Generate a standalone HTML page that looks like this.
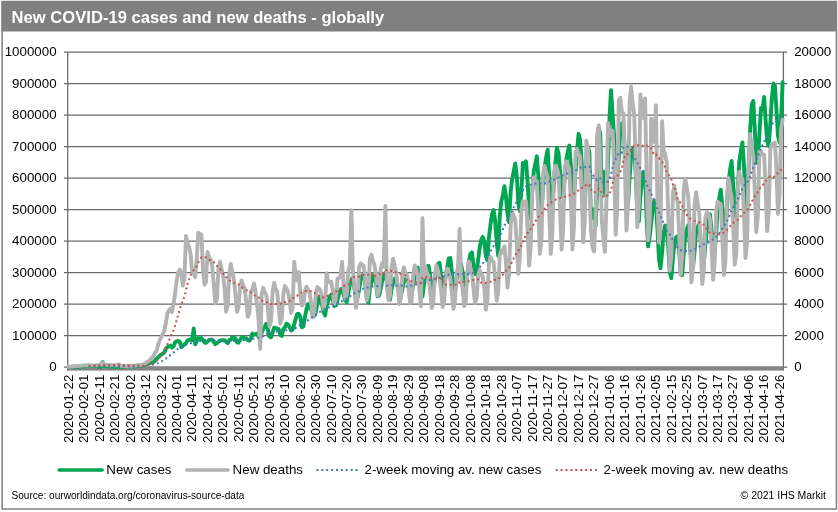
<!DOCTYPE html>
<html><head><meta charset="utf-8"><title>New COVID-19 cases and new deaths - globally</title>
<style>html,body{margin:0;padding:0;background:#fff;}body{width:838px;height:512px;position:relative;overflow:hidden;font-family:"Liberation Sans",sans-serif;}</style>
</head><body>
<svg width="838" height="512" viewBox="0 0 838 512" style="position:absolute;left:0;top:0;will-change:transform;font-family:'Liberation Sans',sans-serif">
<rect x="0" y="0" width="838" height="512" fill="#fff"/>
<g>
<rect x="2.15" y="1.5" width="834.3" height="507.5" fill="none" stroke="#7f7f7f" stroke-width="1.5"/>
<rect x="1.4" y="1.2" width="835.5" height="30.3" fill="#808080"/>
<text x="11.6" y="23.4" font-size="16.6" font-weight="bold" fill="#fff">New COVID-19 cases and new deaths - globally</text>
<line x1="64.0" y1="52.00" x2="787.1" y2="52.00" stroke="#696969" stroke-width="1.25"/>
<line x1="64.0" y1="83.50" x2="787.1" y2="83.50" stroke="#696969" stroke-width="1.25"/>
<line x1="64.0" y1="115.00" x2="787.1" y2="115.00" stroke="#696969" stroke-width="1.25"/>
<line x1="64.0" y1="146.50" x2="787.1" y2="146.50" stroke="#696969" stroke-width="1.25"/>
<line x1="64.0" y1="178.00" x2="787.1" y2="178.00" stroke="#696969" stroke-width="1.25"/>
<line x1="64.0" y1="209.50" x2="787.1" y2="209.50" stroke="#696969" stroke-width="1.25"/>
<line x1="64.0" y1="241.00" x2="787.1" y2="241.00" stroke="#696969" stroke-width="1.25"/>
<line x1="64.0" y1="272.50" x2="787.1" y2="272.50" stroke="#696969" stroke-width="1.25"/>
<line x1="64.0" y1="304.00" x2="787.1" y2="304.00" stroke="#696969" stroke-width="1.25"/>
<line x1="64.0" y1="335.50" x2="787.1" y2="335.50" stroke="#696969" stroke-width="1.25"/>
<line x1="64.0" y1="367.00" x2="787.1" y2="367.00" stroke="#696969" stroke-width="1.25"/>
<line x1="67.7" y1="52.0" x2="67.7" y2="370.6" stroke="#696969" stroke-width="1.25"/>
<line x1="783.4" y1="52.0" x2="783.4" y2="370.6" stroke="#696969" stroke-width="1.25"/>
<rect x="67.7" y="366.5" width="715.6999999999999" height="4.1" fill="#858585"/>
<text x="56.6" y="56.3" font-size="13.33" text-anchor="end" fill="#000">1000000</text>
<text x="794.2" y="56.3" font-size="13.33" fill="#000">20000</text>
<text x="56.6" y="87.8" font-size="13.33" text-anchor="end" fill="#000">900000</text>
<text x="794.2" y="87.8" font-size="13.33" fill="#000">18000</text>
<text x="56.6" y="119.3" font-size="13.33" text-anchor="end" fill="#000">800000</text>
<text x="794.2" y="119.3" font-size="13.33" fill="#000">16000</text>
<text x="56.6" y="150.8" font-size="13.33" text-anchor="end" fill="#000">700000</text>
<text x="794.2" y="150.8" font-size="13.33" fill="#000">14000</text>
<text x="56.6" y="182.3" font-size="13.33" text-anchor="end" fill="#000">600000</text>
<text x="794.2" y="182.3" font-size="13.33" fill="#000">12000</text>
<text x="56.6" y="213.8" font-size="13.33" text-anchor="end" fill="#000">500000</text>
<text x="794.2" y="213.8" font-size="13.33" fill="#000">10000</text>
<text x="56.6" y="245.3" font-size="13.33" text-anchor="end" fill="#000">400000</text>
<text x="794.2" y="245.3" font-size="13.33" fill="#000">8000</text>
<text x="56.6" y="276.8" font-size="13.33" text-anchor="end" fill="#000">300000</text>
<text x="794.2" y="276.8" font-size="13.33" fill="#000">6000</text>
<text x="56.6" y="308.3" font-size="13.33" text-anchor="end" fill="#000">200000</text>
<text x="794.2" y="308.3" font-size="13.33" fill="#000">4000</text>
<text x="56.6" y="339.8" font-size="13.33" text-anchor="end" fill="#000">100000</text>
<text x="794.2" y="339.8" font-size="13.33" fill="#000">2000</text>
<text x="56.6" y="371.3" font-size="13.33" text-anchor="end" fill="#000">0</text>
<text x="794.2" y="371.3" font-size="13.33" fill="#000">0</text>
<text transform="translate(72.77,374.7) rotate(-90)" font-size="13.33" text-anchor="end" fill="#000">2020-01-22</text>
<text transform="translate(88.23,374.7) rotate(-90)" font-size="13.33" text-anchor="end" fill="#000">2020-02-01</text>
<text transform="translate(103.69,374.7) rotate(-90)" font-size="13.33" text-anchor="end" fill="#000">2020-02-11</text>
<text transform="translate(119.15,374.7) rotate(-90)" font-size="13.33" text-anchor="end" fill="#000">2020-02-21</text>
<text transform="translate(134.60,374.7) rotate(-90)" font-size="13.33" text-anchor="end" fill="#000">2020-03-02</text>
<text transform="translate(150.06,374.7) rotate(-90)" font-size="13.33" text-anchor="end" fill="#000">2020-03-12</text>
<text transform="translate(165.52,374.7) rotate(-90)" font-size="13.33" text-anchor="end" fill="#000">2020-03-22</text>
<text transform="translate(180.98,374.7) rotate(-90)" font-size="13.33" text-anchor="end" fill="#000">2020-04-01</text>
<text transform="translate(196.44,374.7) rotate(-90)" font-size="13.33" text-anchor="end" fill="#000">2020-04-11</text>
<text transform="translate(211.89,374.7) rotate(-90)" font-size="13.33" text-anchor="end" fill="#000">2020-04-21</text>
<text transform="translate(227.35,374.7) rotate(-90)" font-size="13.33" text-anchor="end" fill="#000">2020-05-01</text>
<text transform="translate(242.81,374.7) rotate(-90)" font-size="13.33" text-anchor="end" fill="#000">2020-05-11</text>
<text transform="translate(258.27,374.7) rotate(-90)" font-size="13.33" text-anchor="end" fill="#000">2020-05-21</text>
<text transform="translate(273.73,374.7) rotate(-90)" font-size="13.33" text-anchor="end" fill="#000">2020-05-31</text>
<text transform="translate(289.18,374.7) rotate(-90)" font-size="13.33" text-anchor="end" fill="#000">2020-06-10</text>
<text transform="translate(304.64,374.7) rotate(-90)" font-size="13.33" text-anchor="end" fill="#000">2020-06-20</text>
<text transform="translate(320.10,374.7) rotate(-90)" font-size="13.33" text-anchor="end" fill="#000">2020-06-30</text>
<text transform="translate(335.56,374.7) rotate(-90)" font-size="13.33" text-anchor="end" fill="#000">2020-07-10</text>
<text transform="translate(351.01,374.7) rotate(-90)" font-size="13.33" text-anchor="end" fill="#000">2020-07-20</text>
<text transform="translate(366.47,374.7) rotate(-90)" font-size="13.33" text-anchor="end" fill="#000">2020-07-30</text>
<text transform="translate(381.93,374.7) rotate(-90)" font-size="13.33" text-anchor="end" fill="#000">2020-08-09</text>
<text transform="translate(397.39,374.7) rotate(-90)" font-size="13.33" text-anchor="end" fill="#000">2020-08-19</text>
<text transform="translate(412.85,374.7) rotate(-90)" font-size="13.33" text-anchor="end" fill="#000">2020-08-29</text>
<text transform="translate(428.30,374.7) rotate(-90)" font-size="13.33" text-anchor="end" fill="#000">2020-09-08</text>
<text transform="translate(443.76,374.7) rotate(-90)" font-size="13.33" text-anchor="end" fill="#000">2020-09-18</text>
<text transform="translate(459.22,374.7) rotate(-90)" font-size="13.33" text-anchor="end" fill="#000">2020-09-28</text>
<text transform="translate(474.68,374.7) rotate(-90)" font-size="13.33" text-anchor="end" fill="#000">2020-10-08</text>
<text transform="translate(490.14,374.7) rotate(-90)" font-size="13.33" text-anchor="end" fill="#000">2020-10-18</text>
<text transform="translate(505.59,374.7) rotate(-90)" font-size="13.33" text-anchor="end" fill="#000">2020-10-28</text>
<text transform="translate(521.05,374.7) rotate(-90)" font-size="13.33" text-anchor="end" fill="#000">2020-11-07</text>
<text transform="translate(536.51,374.7) rotate(-90)" font-size="13.33" text-anchor="end" fill="#000">2020-11-17</text>
<text transform="translate(551.97,374.7) rotate(-90)" font-size="13.33" text-anchor="end" fill="#000">2020-11-27</text>
<text transform="translate(567.43,374.7) rotate(-90)" font-size="13.33" text-anchor="end" fill="#000">2020-12-07</text>
<text transform="translate(582.88,374.7) rotate(-90)" font-size="13.33" text-anchor="end" fill="#000">2020-12-17</text>
<text transform="translate(598.34,374.7) rotate(-90)" font-size="13.33" text-anchor="end" fill="#000">2020-12-27</text>
<text transform="translate(613.80,374.7) rotate(-90)" font-size="13.33" text-anchor="end" fill="#000">2021-01-06</text>
<text transform="translate(629.26,374.7) rotate(-90)" font-size="13.33" text-anchor="end" fill="#000">2021-01-16</text>
<text transform="translate(644.71,374.7) rotate(-90)" font-size="13.33" text-anchor="end" fill="#000">2021-01-26</text>
<text transform="translate(660.17,374.7) rotate(-90)" font-size="13.33" text-anchor="end" fill="#000">2021-02-05</text>
<text transform="translate(675.63,374.7) rotate(-90)" font-size="13.33" text-anchor="end" fill="#000">2021-02-15</text>
<text transform="translate(691.09,374.7) rotate(-90)" font-size="13.33" text-anchor="end" fill="#000">2021-02-25</text>
<text transform="translate(706.55,374.7) rotate(-90)" font-size="13.33" text-anchor="end" fill="#000">2021-03-07</text>
<text transform="translate(722.00,374.7) rotate(-90)" font-size="13.33" text-anchor="end" fill="#000">2021-03-17</text>
<text transform="translate(737.46,374.7) rotate(-90)" font-size="13.33" text-anchor="end" fill="#000">2021-03-27</text>
<text transform="translate(752.92,374.7) rotate(-90)" font-size="13.33" text-anchor="end" fill="#000">2021-04-06</text>
<text transform="translate(768.38,374.7) rotate(-90)" font-size="13.33" text-anchor="end" fill="#000">2021-04-16</text>
<text transform="translate(783.84,374.7) rotate(-90)" font-size="13.33" text-anchor="end" fill="#000">2021-04-26</text>
<polyline points="68.5,367.0 70.0,367.0 71.6,366.9 73.1,366.8 74.7,366.8 76.2,366.7 77.7,366.2 79.3,366.8 80.8,366.4 82.4,366.3 83.9,366.2 85.5,365.5 87.0,366.0 88.6,365.8 90.1,365.8 91.7,366.0 93.2,365.9 94.8,366.1 96.3,366.1 97.8,366.2 99.4,366.4 100.9,366.9 102.5,362.2 104.0,365.0 105.6,366.3 107.1,366.4 108.7,366.4 110.2,366.4 111.8,366.8 113.3,366.8 114.8,366.7 116.4,366.7 117.9,366.9 119.5,366.8 121.0,366.7 122.6,366.7 124.1,366.6 125.7,366.6 127.2,366.4 128.8,366.2 130.3,366.4 131.9,366.2 133.4,366.3 134.9,366.1 136.5,365.8 138.0,365.7 139.6,365.8 141.1,365.6 142.7,365.5 144.2,364.7 145.8,364.5 147.3,363.6 148.9,363.5 150.4,363.0 151.9,362.4 153.5,362.1 155.0,360.7 156.6,358.5 158.1,357.6 159.7,355.7 161.2,354.7 162.8,353.5 164.3,352.5 165.9,348.7 167.4,347.2 168.9,346.5 170.5,345.6 172.0,347.5 173.6,346.2 175.1,342.4 176.7,341.2 178.2,341.0 179.8,341.8 181.3,347.2 182.9,345.9 184.4,344.4 186.0,343.1 187.5,340.5 189.0,339.9 190.6,339.4 192.1,340.2 193.7,328.4 195.2,344.4 196.8,341.2 198.3,338.1 199.9,338.6 201.4,338.1 203.0,340.2 204.5,342.5 206.0,342.9 207.6,341.4 209.1,339.9 210.7,339.8 212.2,339.8 213.8,342.1 215.3,344.1 216.9,343.1 218.4,341.7 220.0,340.8 221.5,340.1 223.1,340.2 224.6,340.3 226.1,341.6 227.7,343.2 229.2,340.2 230.8,339.8 232.3,337.1 233.9,338.0 235.4,338.1 237.0,342.3 238.5,342.7 240.1,340.1 241.6,337.5 243.1,337.1 244.7,338.7 246.2,338.3 247.8,340.2 249.3,340.7 250.9,338.6 252.4,333.6 254.0,334.5 255.5,334.2 257.1,333.7 258.6,336.7 260.2,337.2 261.7,332.8 263.2,329.0 264.8,326.4 266.3,323.8 267.9,329.6 269.4,336.5 271.0,337.4 272.5,332.8 274.1,327.8 275.6,327.9 277.2,328.7 278.7,329.2 280.2,334.8 281.8,335.9 283.3,329.2 284.9,327.2 286.4,323.8 288.0,324.6 289.5,327.0 291.1,330.4 292.6,329.7 294.2,324.2 295.7,319.0 297.2,314.0 298.8,313.9 300.3,316.8 301.9,327.3 303.4,326.3 305.0,316.9 306.5,308.8 308.1,304.0 309.6,308.4 311.2,309.4 312.7,315.3 314.3,315.9 315.8,312.1 317.3,303.5 318.9,297.5 320.4,301.0 322.0,304.4 323.5,312.0 325.1,315.4 326.6,305.9 328.2,300.7 329.7,296.9 331.3,294.6 332.8,299.5 334.3,306.0 335.9,305.4 337.4,300.6 339.0,293.7 340.5,289.4 342.1,288.7 343.6,294.7 345.2,300.2 346.7,302.2 348.3,293.4 349.8,285.0 351.4,279.2 352.9,277.9 354.4,287.9 356.0,297.8 357.5,297.7 359.1,289.8 360.6,279.4 362.2,275.8 363.7,274.4 365.3,283.8 366.8,298.9 368.4,302.9 369.9,288.4 371.4,282.5 373.0,275.7 374.5,275.3 376.1,283.9 377.6,296.2 379.2,295.4 380.7,288.9 382.3,280.1 383.8,274.7 385.4,272.7 386.9,283.1 388.5,295.7 390.0,299.6 391.5,289.8 393.1,282.6 394.6,278.8 396.2,278.2 397.7,286.0 399.3,294.3 400.8,296.6 402.4,289.2 403.9,281.7 405.5,279.0 407.0,277.9 408.5,283.2 410.1,290.0 411.6,293.2 413.2,285.2 414.7,277.0 416.3,270.5 417.8,267.8 419.4,279.6 420.9,293.6 422.5,296.5 424.0,284.5 425.5,273.3 427.1,266.4 428.6,265.9 430.2,275.8 431.7,287.7 433.3,289.4 434.8,280.0 436.4,270.0 437.9,264.1 439.5,262.7 441.0,274.8 442.6,284.1 444.1,287.6 445.6,276.2 447.2,267.3 448.7,258.6 450.3,258.0 451.8,271.8 453.4,289.6 454.9,292.2 456.5,279.8 458.0,269.0 459.6,264.2 461.1,264.3 462.6,272.4 464.2,286.9 465.7,289.8 467.3,275.2 468.8,261.4 470.4,253.8 471.9,252.3 473.5,264.2 475.0,274.0 476.6,274.4 478.1,259.9 479.7,247.6 481.2,239.8 482.7,236.9 484.3,241.5 485.8,255.6 487.4,260.7 488.9,237.5 490.5,224.8 492.0,214.2 493.6,210.1 495.1,220.6 496.7,241.9 498.2,255.8 499.7,216.8 501.3,201.3 502.8,195.6 504.4,186.2 505.9,196.0 507.5,213.3 509.0,222.3 510.6,192.4 512.1,179.4 513.7,171.5 515.2,163.5 516.8,176.1 518.3,203.3 519.8,211.2 521.4,190.2 522.9,162.9 524.5,166.0 526.0,161.3 527.6,182.2 529.1,208.3 530.7,218.8 532.2,192.9 533.8,171.1 535.3,163.9 536.8,156.3 538.4,176.7 539.9,207.8 541.5,212.8 543.0,185.1 544.6,167.7 546.1,157.4 547.7,149.7 549.2,175.9 550.8,199.3 552.3,206.4 553.9,184.8 555.4,162.2 556.9,147.8 558.5,152.8 560.0,170.7 561.6,194.0 563.1,197.5 564.7,177.2 566.2,159.9 567.8,151.5 569.3,145.6 570.9,165.4 572.4,195.1 573.9,194.5 575.5,171.8 577.0,150.8 578.6,133.6 580.1,140.2 581.7,162.0 583.2,193.9 584.8,196.2 586.3,180.8 587.9,146.5 589.4,152.8 590.9,219.0 592.5,215.8 594.0,209.2 595.6,225.8 597.1,190.9 598.7,127.6 600.2,133.9 601.8,190.6 603.3,171.7 604.9,193.4 606.4,196.7 608.0,162.5 609.5,118.1 611.0,90.1 612.6,115.0 614.1,136.1 615.7,173.1 617.2,177.8 618.8,158.4 620.3,129.5 621.9,123.3 623.4,124.4 625.0,153.4 626.5,190.6 628.0,204.2 629.6,177.6 631.1,157.0 632.7,149.2 634.2,147.1 635.8,174.6 637.3,210.3 638.9,221.3 640.4,196.5 642.0,182.4 643.5,172.0 645.1,173.0 646.6,219.0 648.1,246.4 649.7,236.3 651.2,223.7 652.8,207.3 654.3,200.6 655.9,203.2 657.4,228.5 659.0,259.1 660.5,268.3 662.1,252.2 663.6,233.3 665.1,225.5 666.7,226.2 668.2,246.0 669.8,272.0 671.3,278.0 672.9,258.5 674.4,244.4 676.0,237.4 677.5,236.3 679.1,250.0 680.6,271.7 682.2,275.1 683.7,254.7 685.2,236.6 686.8,229.2 688.3,225.2 689.9,245.2 691.4,264.0 693.0,267.6 694.5,252.4 696.1,231.4 697.6,227.2 699.2,223.7 700.7,240.2 702.2,259.4 703.8,263.0 705.3,246.2 706.9,229.2 708.4,218.0 710.0,214.2 711.5,229.3 713.1,250.0 714.6,251.4 716.2,233.8 717.7,208.6 719.2,198.4 720.8,189.7 722.3,206.8 723.9,228.6 725.4,229.0 727.0,208.3 728.5,181.5 730.1,169.6 731.6,161.0 733.2,184.8 734.7,210.9 736.3,217.6 737.8,188.9 739.3,161.4 740.9,150.6 742.4,142.4 744.0,166.0 745.5,202.7 747.1,211.2 748.6,170.7 750.2,129.1 751.7,104.5 753.3,101.1 754.8,129.2 756.3,163.1 757.9,160.3 759.4,134.1 761.0,107.9 762.5,109.4 764.1,97.0 765.6,119.9 767.2,141.6 768.7,145.9 770.3,124.3 771.8,98.6 773.4,83.5 774.9,85.4 776.4,109.0 778.0,135.9 779.5,142.4 781.1,119.6 782.6,82.2" fill="none" stroke="#00a651" stroke-width="3.9" stroke-linejoin="round" stroke-linecap="round"/>
<polyline points="68.5,366.7 70.0,366.7 71.6,366.5 73.1,366.4 74.7,366.2 76.2,366.1 77.7,366.0 79.3,365.9 80.8,365.8 82.4,365.6 83.9,365.4 85.5,365.4 87.0,365.4 88.6,365.4 90.1,365.4 91.7,365.4 93.2,365.4 94.8,365.4 96.3,365.3 97.8,365.1 99.4,365.0 100.9,364.8 102.5,363.1 104.0,364.6 105.6,364.8 107.1,364.8 108.7,365.3 110.2,365.4 111.8,365.0 113.3,365.1 114.8,365.3 116.4,365.4 117.9,364.5 119.5,364.6 121.0,365.7 122.6,366.1 124.1,366.2 125.7,366.4 127.2,366.2 128.8,366.1 130.3,365.9 131.9,365.7 133.4,365.7 134.9,365.6 136.5,365.4 138.0,365.4 139.6,365.3 141.1,365.0 142.7,364.6 144.2,363.9 145.8,363.1 147.3,362.0 148.9,360.8 150.4,359.4 151.9,357.8 153.5,355.5 155.0,352.8 156.6,350.5 158.1,344.9 159.7,340.2 161.2,337.1 162.8,333.9 164.3,330.8 165.9,322.9 167.4,313.4 168.9,310.3 170.5,308.7 172.0,311.9 173.6,304.0 175.1,293.0 176.7,280.4 178.2,272.5 179.8,269.6 181.3,272.5 182.9,285.6 184.4,278.8 186.0,236.0 187.5,243.4 189.0,246.5 190.6,254.4 192.1,270.9 193.7,273.8 195.2,277.2 196.8,258.3 198.3,232.7 199.9,239.4 201.4,234.3 203.0,269.4 204.5,284.7 206.0,281.9 207.6,252.0 209.1,257.5 210.7,259.9 212.2,266.2 213.8,285.1 215.3,303.4 216.9,298.9 218.4,269.1 220.0,261.8 221.5,268.8 223.1,275.3 224.6,288.2 226.1,311.9 227.7,305.4 229.2,273.6 230.8,264.0 232.3,272.0 233.9,279.4 235.4,294.1 237.0,311.9 238.5,307.3 240.1,286.6 241.6,280.5 243.1,285.1 244.7,288.4 246.2,301.6 247.8,316.9 249.3,313.2 250.9,291.2 252.4,289.8 254.0,283.5 255.5,291.9 257.1,304.9 258.6,319.8 260.2,348.8 261.7,293.4 263.2,287.9 264.8,292.3 266.3,294.6 267.9,308.9 269.4,326.1 271.0,321.1 272.5,293.6 274.1,282.7 275.6,288.7 277.2,291.7 278.7,307.4 280.2,323.6 281.8,318.3 283.3,294.8 284.9,285.9 286.4,288.6 288.0,292.0 289.5,299.7 291.1,313.0 292.6,308.1 294.2,261.8 295.7,275.6 297.2,280.5 298.8,271.9 300.3,294.6 301.9,305.6 303.4,303.9 305.0,290.8 306.5,286.7 308.1,289.7 309.6,293.1 311.2,303.5 312.7,317.2 314.3,312.0 315.8,294.3 317.3,287.0 318.9,288.2 320.4,290.5 322.0,297.5 323.5,308.7 325.1,303.0 326.6,273.3 328.2,281.2 329.7,282.7 331.3,281.6 332.8,291.4 334.3,303.8 335.9,298.7 337.4,278.8 339.0,278.0 340.5,275.6 342.1,261.8 343.6,285.4 345.2,298.6 346.7,295.0 348.3,271.2 349.8,264.6 351.4,210.1 352.9,270.7 354.4,285.8 356.0,307.9 357.5,299.1 359.1,267.1 360.6,263.4 362.2,265.7 363.7,265.5 365.3,281.5 366.8,300.4 368.4,292.5 369.9,258.7 371.4,254.7 373.0,261.1 374.5,264.7 376.1,276.4 377.6,295.3 379.2,290.2 380.7,268.6 382.3,263.1 383.8,266.5 385.4,206.0 386.9,284.7 388.5,300.4 390.0,295.8 391.5,268.2 393.1,258.6 394.6,266.0 396.2,273.2 397.7,286.2 399.3,304.0 400.8,299.1 402.4,273.8 403.9,267.3 405.5,273.3 407.0,274.5 408.5,287.4 410.1,303.1 411.6,301.5 413.2,274.2 414.7,265.4 416.3,269.9 417.8,276.1 419.4,289.8 420.9,306.4 422.5,218.2 424.0,276.9 425.5,267.0 427.1,273.5 428.6,276.1 430.2,291.8 431.7,308.1 433.3,303.3 434.8,275.2 436.4,265.4 437.9,270.4 439.5,278.0 441.0,289.3 442.6,307.1 444.1,302.9 445.6,275.3 447.2,268.6 448.7,272.6 450.3,278.6 451.8,292.4 453.4,308.9 454.9,302.0 456.5,276.0 458.0,267.8 459.6,229.0 461.1,277.2 462.6,289.3 464.2,306.0 465.7,302.0 467.3,272.4 468.8,261.5 470.4,268.4 471.9,272.6 473.5,288.6 475.0,303.1 476.6,298.2 478.1,275.9 479.7,270.1 481.2,274.2 482.7,276.6 484.3,287.8 485.8,309.7 487.4,299.4 488.9,263.9 490.5,256.8 492.0,261.1 493.6,261.8 495.1,279.2 496.7,300.7 498.2,292.0 499.7,255.7 501.3,250.4 502.8,252.4 504.4,246.4 505.9,262.4 507.5,287.6 509.0,274.4 510.6,227.0 512.1,211.7 513.7,215.8 515.2,219.3 516.8,244.3 518.3,273.9 519.8,257.7 521.4,210.1 522.9,201.0 524.5,204.3 526.0,201.4 527.6,230.7 529.1,265.6 530.7,247.9 532.2,187.8 533.8,177.2 535.3,180.4 536.8,181.4 538.4,214.6 539.9,253.9 541.5,238.7 543.0,174.2 544.6,165.9 546.1,172.3 547.7,176.6 549.2,212.8 550.8,253.9 552.3,234.7 553.9,172.5 555.4,166.0 556.9,168.7 558.5,174.3 560.0,208.2 561.6,249.5 563.1,231.5 564.7,169.1 566.2,161.3 567.8,164.8 569.3,169.8 570.9,202.7 572.4,249.5 573.9,227.1 575.5,153.0 577.0,148.9 578.6,154.0 580.1,156.6 581.7,193.7 583.2,242.4 584.8,221.2 586.3,140.5 587.9,148.1 589.4,181.2 590.9,228.4 592.5,247.3 594.0,251.6 595.6,215.8 597.1,135.5 598.7,125.4 600.2,159.1 601.8,220.5 603.3,237.8 604.9,251.9 606.4,204.8 608.0,122.9 609.5,132.3 611.0,135.5 612.6,130.8 614.1,165.4 615.7,234.7 617.2,208.8 618.8,100.0 620.3,97.7 621.9,111.7 623.4,113.3 625.0,170.3 626.5,230.6 628.0,205.0 629.6,101.9 631.1,86.6 632.7,103.2 634.2,114.6 635.8,163.7 637.3,227.2 638.9,203.8 640.4,94.5 642.0,110.3 643.5,118.1 645.1,98.5 646.6,178.0 648.1,240.1 649.7,221.9 651.2,118.6 652.8,138.6 654.3,141.8 655.9,105.2 657.4,201.6 659.0,242.6 660.5,228.2 662.1,121.3 663.6,149.7 665.1,154.4 666.7,162.2 668.2,215.3 669.8,270.6 671.3,257.1 672.9,192.6 674.4,186.0 676.0,198.7 677.5,199.9 679.1,232.5 680.6,274.9 682.2,256.8 683.7,190.6 685.2,178.6 686.8,188.1 688.3,196.8 689.9,233.2 691.4,282.4 693.0,266.5 694.5,204.7 696.1,192.2 697.6,202.7 699.2,211.9 700.7,245.0 702.2,284.0 703.8,270.2 705.3,218.1 706.9,212.2 708.4,214.3 710.0,219.4 711.5,246.7 713.1,279.7 714.6,263.7 716.2,210.7 717.7,201.6 719.2,203.6 720.8,204.0 722.3,237.6 723.9,274.9 725.4,260.9 727.0,194.4 728.5,178.0 730.1,189.5 731.6,197.3 733.2,225.7 734.7,264.6 736.3,253.6 737.8,189.9 739.3,171.9 740.9,182.5 742.4,179.1 744.0,216.2 745.5,258.0 747.1,242.2 748.6,164.1 750.2,133.9 751.7,147.2 753.3,156.6 754.8,192.5 756.3,232.0 757.9,214.8 759.4,151.5 761.0,151.2 762.5,154.7 764.1,154.6 765.6,188.9 767.2,231.1 768.7,212.0 770.3,149.2 771.8,144.1 773.4,145.1 774.9,142.5 776.4,169.0 778.0,213.9 779.5,194.0 781.1,128.9 782.6,119.7" fill="none" stroke="#b3b3b3" stroke-width="3.9" stroke-linejoin="round" stroke-linecap="round"/>
<polyline points="88.6,366.5 90.1,366.4 91.7,366.3 93.2,366.2 94.8,366.2 96.3,366.1 97.8,366.1 99.4,366.1 100.9,366.1 102.5,365.8 104.0,365.7 105.6,365.7 107.1,365.8 108.7,365.8 110.2,365.9 111.8,365.9 113.3,366.0 114.8,366.1 116.4,366.1 117.9,366.2 119.5,366.2 121.0,366.2 122.6,366.2 124.1,366.5 125.7,366.6 127.2,366.6 128.8,366.6 130.3,366.6 131.9,366.6 133.4,366.6 134.9,366.5 136.5,366.5 138.0,366.4 139.6,366.3 141.1,366.2 142.7,366.1 144.2,366.0 145.8,365.8 147.3,365.6 148.9,365.4 150.4,365.2 151.9,364.9 153.5,364.6 155.0,364.2 156.6,363.7 158.1,363.1 159.7,362.4 161.2,361.6 162.8,360.7 164.3,359.8 165.9,358.6 167.4,357.4 168.9,356.2 170.5,354.9 172.0,353.8 173.6,352.6 175.1,351.2 176.7,349.8 178.2,348.6 179.8,347.5 181.3,346.9 182.9,346.2 184.4,345.6 186.0,344.9 187.5,344.3 189.0,343.8 190.6,343.3 192.1,342.9 193.7,341.5 195.2,341.4 196.8,341.3 198.3,341.1 199.9,340.9 201.4,340.7 203.0,340.2 204.5,339.9 206.0,339.8 207.6,339.7 209.1,339.7 210.7,339.7 212.2,339.7 213.8,339.8 215.3,340.9 216.9,340.8 218.4,340.9 220.0,341.1 221.5,341.2 223.1,341.3 224.6,341.3 226.1,341.3 227.7,341.3 229.2,341.2 230.8,341.2 232.3,341.0 233.9,340.9 235.4,340.6 237.0,340.5 238.5,340.4 240.1,340.3 241.6,340.1 243.1,339.9 244.7,339.7 246.2,339.6 247.8,339.5 249.3,339.3 250.9,339.2 252.4,338.8 254.0,338.6 255.5,338.3 257.1,338.0 258.6,337.6 260.2,337.2 261.7,336.7 263.2,336.1 264.8,335.3 266.3,334.2 267.9,333.6 269.4,333.4 271.0,333.1 272.5,332.7 274.1,332.3 275.6,331.8 277.2,331.4 278.7,331.1 280.2,331.0 281.8,330.9 283.3,330.6 284.9,330.5 286.4,330.3 288.0,330.4 289.5,330.2 291.1,329.8 292.6,329.2 294.2,328.6 295.7,328.0 297.2,327.0 298.8,325.9 300.3,325.0 301.9,324.5 303.4,323.8 305.0,322.9 306.5,321.6 308.1,320.2 309.6,319.1 311.2,317.8 312.7,316.7 314.3,315.7 315.8,314.9 317.3,313.8 318.9,312.6 320.4,311.7 322.0,310.8 323.5,309.7 325.1,308.9 326.6,308.1 328.2,307.5 329.7,307.0 331.3,306.1 332.8,305.3 334.3,304.7 335.9,303.9 337.4,303.1 339.0,302.4 340.5,301.8 342.1,301.0 343.6,300.3 345.2,299.4 346.7,298.5 348.3,297.6 349.8,296.5 351.4,295.2 352.9,294.0 354.4,293.2 356.0,292.6 357.5,292.0 359.1,291.3 360.6,290.2 362.2,289.3 363.7,288.3 365.3,287.5 366.8,287.4 368.4,287.4 369.9,287.1 371.4,286.9 373.0,286.6 374.5,286.5 376.1,286.2 377.6,286.1 379.2,285.9 380.7,285.8 382.3,285.9 383.8,285.8 385.4,285.7 386.9,285.6 388.5,285.4 390.0,285.2 391.5,285.3 393.1,285.3 394.6,285.5 396.2,285.7 397.7,285.8 399.3,285.7 400.8,285.8 402.4,285.8 403.9,285.9 405.5,286.2 407.0,286.6 408.5,286.6 410.1,286.2 411.6,285.7 413.2,285.4 414.7,285.0 416.3,284.4 417.8,283.7 419.4,283.2 420.9,283.2 422.5,283.2 424.0,282.8 425.5,282.2 427.1,281.3 428.6,280.5 430.2,279.9 431.7,279.8 433.3,279.5 434.8,279.1 436.4,278.6 437.9,278.2 439.5,277.8 441.0,277.5 442.6,276.8 444.1,276.2 445.6,275.6 447.2,275.1 448.7,274.6 450.3,274.0 451.8,273.7 453.4,273.9 454.9,274.1 456.5,274.1 458.0,274.0 459.6,274.0 461.1,274.1 462.6,273.9 464.2,274.1 465.7,274.3 467.3,274.2 468.8,273.8 470.4,273.5 471.9,273.1 473.5,272.5 475.0,271.4 476.6,270.1 478.1,268.7 479.7,267.2 481.2,265.4 482.7,263.5 484.3,261.3 485.8,259.0 487.4,257.0 488.9,254.3 490.5,251.7 492.0,248.8 493.6,245.8 495.1,242.7 496.7,240.4 498.2,239.1 499.7,236.0 501.3,232.7 502.8,229.5 504.4,225.9 505.9,222.6 507.5,219.6 509.0,216.9 510.6,213.7 512.1,210.4 513.7,207.4 515.2,204.0 516.8,200.9 518.3,198.1 519.8,194.9 521.4,193.0 522.9,190.3 524.5,188.2 526.0,186.4 527.6,185.4 529.1,185.0 530.7,184.8 532.2,184.8 533.8,184.2 535.3,183.7 536.8,183.2 538.4,183.2 539.9,183.5 541.5,183.6 543.0,183.3 544.6,183.6 546.1,183.0 547.7,182.2 549.2,181.7 550.8,181.1 552.3,180.2 553.9,179.6 555.4,179.0 556.9,177.8 558.5,177.6 560.0,177.2 561.6,176.2 563.1,175.1 564.7,174.5 566.2,174.0 567.8,173.5 569.3,173.3 570.9,172.5 572.4,172.2 573.9,171.4 575.5,170.4 577.0,169.6 578.6,168.6 580.1,167.7 581.7,167.1 583.2,167.1 584.8,167.0 586.3,167.2 587.9,166.3 589.4,166.4 590.9,171.6 592.5,175.2 594.0,176.2 595.6,178.5 597.1,179.8 598.7,178.2 600.2,178.2 601.8,181.8 603.3,182.5 604.9,182.4 606.4,182.5 608.0,181.2 609.5,179.1 611.0,174.7 612.6,167.2 614.1,161.6 615.7,159.0 617.2,155.5 618.8,153.2 620.3,153.4 621.9,152.6 623.4,147.9 625.0,146.6 626.5,146.4 628.0,146.9 629.6,148.0 631.1,150.7 632.7,155.0 634.2,157.3 635.8,160.0 637.3,162.7 638.9,165.8 640.4,168.5 642.0,172.3 643.5,175.8 645.1,179.2 646.6,183.9 648.1,187.9 649.7,190.2 651.2,193.5 652.8,197.1 654.3,200.7 655.9,204.8 657.4,208.6 659.0,212.1 660.5,215.4 662.1,219.4 663.6,223.0 665.1,226.9 666.7,230.7 668.2,232.6 669.8,234.4 671.3,237.4 672.9,239.9 674.4,242.5 676.0,245.2 677.5,247.5 679.1,249.1 680.6,250.0 682.2,250.5 683.7,250.6 685.2,250.9 686.8,251.1 688.3,251.1 689.9,251.0 691.4,250.4 693.0,249.7 694.5,249.3 696.1,248.3 697.6,247.6 699.2,246.7 700.7,246.0 702.2,245.1 703.8,244.3 705.3,243.7 706.9,243.1 708.4,242.3 710.0,241.6 711.5,240.4 713.1,239.4 714.6,238.3 716.2,236.9 717.7,235.3 719.2,233.3 720.8,230.8 722.3,228.4 723.9,226.2 725.4,223.8 727.0,221.1 728.5,217.7 730.1,214.2 731.6,210.4 733.2,207.3 734.7,204.5 736.3,202.1 737.8,198.8 739.3,195.5 740.9,192.1 742.4,188.7 744.0,185.8 745.5,183.9 747.1,182.6 748.6,180.0 750.2,176.2 751.7,171.6 753.3,167.3 754.8,163.3 756.3,159.9 757.9,155.8 759.4,151.9 761.0,148.1 762.5,145.1 764.1,141.9 765.6,138.6 767.2,134.2 768.7,129.6 770.3,126.3 771.8,124.1 773.4,122.6 774.9,121.5 776.4,120.0 778.0,118.1 779.5,116.8 781.1,115.8 782.6,113.9" fill="none" stroke="#4a76b4" stroke-width="2" stroke-dasharray="2 2.9"/>
<polyline points="88.6,366.0 90.1,365.9 91.7,365.8 93.2,365.7 94.8,365.6 96.3,365.6 97.8,365.5 99.4,365.4 100.9,365.4 102.5,365.2 104.0,365.1 105.6,365.0 107.1,365.0 108.7,365.0 110.2,365.0 111.8,365.0 113.3,364.9 114.8,364.9 116.4,364.9 117.9,364.9 119.5,364.8 121.0,364.9 122.6,365.0 124.1,365.2 125.7,365.3 127.2,365.4 128.8,365.5 130.3,365.6 131.9,365.6 133.4,365.6 134.9,365.7 136.5,365.7 138.0,365.7 139.6,365.7 141.1,365.8 142.7,365.7 144.2,365.5 145.8,365.3 147.3,365.0 148.9,364.6 150.4,364.1 151.9,363.6 153.5,362.8 155.0,361.9 156.6,360.8 158.1,359.4 159.7,357.6 161.2,355.5 162.8,353.3 164.3,350.9 165.9,348.0 167.4,344.4 168.9,340.7 170.5,337.0 172.0,333.6 173.6,329.8 175.1,325.3 176.7,320.1 178.2,314.6 179.8,309.2 181.3,304.4 182.9,300.7 184.4,296.7 186.0,290.0 187.5,284.3 189.0,279.5 190.6,275.5 192.1,272.8 193.7,270.1 195.2,268.2 196.8,265.7 198.3,262.3 199.9,259.9 201.4,257.4 203.0,257.2 204.5,257.1 206.0,257.3 207.6,258.5 209.1,259.5 210.7,260.5 212.2,261.3 213.8,262.3 215.3,264.4 216.9,266.0 218.4,266.8 220.0,268.8 221.5,270.9 223.1,273.9 224.6,275.2 226.1,277.1 227.7,278.8 229.2,280.4 230.8,280.8 232.3,281.7 233.9,282.6 235.4,283.3 237.0,283.9 238.5,284.5 240.1,285.7 241.6,287.1 243.1,288.2 244.7,289.2 246.2,290.1 247.8,290.5 249.3,291.0 250.9,292.3 252.4,294.1 254.0,295.0 255.5,295.9 257.1,296.6 258.6,297.2 260.2,300.2 261.7,300.6 263.2,301.2 264.8,301.7 266.3,302.1 267.9,302.6 269.4,303.3 271.0,303.9 272.5,304.0 274.1,303.5 275.6,303.9 277.2,303.9 278.7,304.1 280.2,304.3 281.8,302.2 283.3,302.3 284.9,302.1 286.4,301.9 288.0,301.7 289.5,301.0 291.1,300.1 292.6,299.2 294.2,296.9 295.7,296.4 297.2,295.8 298.8,294.4 300.3,293.5 301.9,292.2 303.4,291.1 305.0,290.9 306.5,290.9 308.1,291.0 309.6,291.1 311.2,291.3 312.7,291.6 314.3,291.9 315.8,294.2 317.3,295.1 318.9,295.6 320.4,296.9 322.0,297.2 323.5,297.4 325.1,297.3 326.6,296.1 328.2,295.7 329.7,295.2 331.3,294.4 332.8,293.5 334.3,292.5 335.9,291.6 337.4,290.5 339.0,289.8 340.5,288.9 342.1,286.9 343.6,286.0 345.2,285.3 346.7,284.7 348.3,284.6 349.8,283.4 351.4,278.2 352.9,277.4 354.4,277.0 356.0,277.3 357.5,277.3 359.1,276.5 360.6,275.5 362.2,274.8 363.7,275.0 365.3,274.7 366.8,274.9 368.4,274.7 369.9,273.8 371.4,273.1 373.0,276.7 374.5,276.3 376.1,275.6 377.6,274.7 379.2,274.1 380.7,274.2 382.3,274.2 383.8,274.2 385.4,270.0 386.9,270.2 388.5,270.2 390.0,270.4 391.5,271.1 393.1,271.4 394.6,271.8 396.2,272.4 397.7,273.1 399.3,273.7 400.8,274.3 402.4,274.7 403.9,275.0 405.5,275.5 407.0,280.4 408.5,280.6 410.1,280.8 411.6,281.2 413.2,281.6 414.7,282.1 416.3,282.3 417.8,282.6 419.4,282.8 420.9,283.0 422.5,277.2 424.0,277.4 425.5,277.4 427.1,277.4 428.6,277.5 430.2,277.8 431.7,278.2 433.3,278.3 434.8,278.4 436.4,278.4 437.9,278.4 439.5,278.6 441.0,278.5 442.6,278.6 444.1,284.6 445.6,284.5 447.2,284.6 448.7,284.6 450.3,284.8 451.8,284.8 453.4,284.9 454.9,284.8 456.5,284.8 458.0,285.0 459.6,282.0 461.1,282.0 462.6,282.0 464.2,281.9 465.7,281.8 467.3,281.6 468.8,281.1 470.4,280.8 471.9,280.4 473.5,280.1 475.0,279.7 476.6,279.4 478.1,279.4 479.7,279.6 481.2,282.8 482.7,282.8 484.3,282.7 485.8,282.9 487.4,282.8 488.9,282.1 490.5,281.8 492.0,281.3 493.6,280.5 495.1,279.8 496.7,279.7 498.2,279.2 499.7,277.8 501.3,276.4 502.8,274.8 504.4,272.7 505.9,270.8 507.5,269.3 509.0,267.5 510.6,264.8 512.1,261.6 513.7,258.4 515.2,255.3 516.8,252.9 518.3,250.9 519.8,248.5 521.4,245.2 522.9,241.7 524.5,238.3 526.0,235.1 527.6,232.8 529.1,231.2 530.7,229.3 532.2,226.5 533.8,224.1 535.3,221.5 536.8,218.8 538.4,216.7 539.9,215.3 541.5,213.9 543.0,211.4 544.6,208.9 546.1,206.6 547.7,204.8 549.2,203.5 550.8,202.7 552.3,201.7 553.9,200.6 555.4,199.9 556.9,199.0 558.5,198.5 560.0,198.1 561.6,197.7 563.1,197.2 564.7,196.9 566.2,196.5 567.8,196.0 569.3,195.5 570.9,194.8 572.4,194.5 573.9,193.9 575.5,192.5 577.0,191.3 578.6,190.3 580.1,189.0 581.7,188.0 583.2,187.5 584.8,186.7 586.3,184.7 587.9,183.7 589.4,184.9 590.9,189.1 592.5,192.3 594.0,192.4 595.6,191.6 597.1,190.4 598.7,188.7 600.2,189.0 601.8,193.6 603.3,196.8 604.9,197.4 606.4,196.3 608.0,195.0 609.5,193.9 611.0,190.6 612.6,183.6 614.1,177.8 615.7,176.6 617.2,176.1 618.8,173.6 620.3,171.6 621.9,168.2 623.4,160.5 625.0,155.7 626.5,154.2 628.0,154.2 629.6,152.7 631.1,149.4 632.7,147.1 634.2,146.0 635.8,145.9 637.3,145.3 638.9,145.0 640.4,144.6 642.0,145.5 643.5,145.9 645.1,144.9 646.6,145.4 648.1,146.1 649.7,147.3 651.2,148.5 652.8,152.2 654.3,155.0 655.9,154.3 657.4,157.0 659.0,158.1 660.5,159.9 662.1,161.8 663.6,164.6 665.1,167.2 666.7,171.7 668.2,174.4 669.8,176.6 671.3,179.1 672.9,184.4 674.4,187.8 676.0,191.8 677.5,198.6 679.1,200.8 680.6,203.1 682.2,205.2 683.7,210.1 685.2,212.2 686.8,214.6 688.3,217.0 689.9,218.3 691.4,219.2 693.0,219.8 694.5,220.7 696.1,221.1 697.6,221.4 699.2,222.3 700.7,223.2 702.2,223.8 703.8,224.8 705.3,226.7 706.9,229.1 708.4,231.0 710.0,232.6 711.5,233.6 713.1,233.4 714.6,233.2 716.2,233.6 717.7,234.3 719.2,234.4 720.8,233.8 722.3,233.3 723.9,232.6 725.4,232.0 727.0,230.3 728.5,227.8 730.1,226.1 731.6,224.5 733.2,223.0 734.7,221.9 736.3,221.2 737.8,219.7 739.3,217.6 740.9,216.1 742.4,214.3 744.0,212.7 745.5,211.5 747.1,210.2 748.6,208.0 750.2,204.9 751.7,201.9 753.3,199.0 754.8,196.6 756.3,194.3 757.9,191.5 759.4,188.8 761.0,187.3 762.5,185.3 764.1,183.5 765.6,181.6 767.2,179.7 768.7,177.5 770.3,176.4 771.8,177.2 773.4,177.0 774.9,176.0 776.4,174.3 778.0,173.0 779.5,171.6 781.1,169.9 782.6,167.7" fill="none" stroke="#c4524e" stroke-width="2" stroke-dasharray="2 2.9"/>
<line x1="59.2" y1="470" x2="102.1" y2="470" stroke="#00a651" stroke-width="3.6" stroke-linecap="round"/>
<text x="106.3" y="473.6" font-size="13.33">New cases</text>
<line x1="186.7" y1="470" x2="228.1" y2="470" stroke="#b3b3b3" stroke-width="3.6" stroke-linecap="round"/>
<text x="232.6" y="473.6" font-size="13.33">New deaths</text>
<line x1="316.4" y1="470" x2="359.5" y2="470" stroke="#4a76b4" stroke-width="2" stroke-dasharray="2 2.9"/>
<text x="364.6" y="473.6" font-size="13.33">2-week moving av. new cases</text>
<line x1="555.7" y1="470" x2="598" y2="470" stroke="#c4524e" stroke-width="2" stroke-dasharray="2 2.9"/>
<text x="603.6" y="473.6" font-size="13.33" textLength="184.6" lengthAdjust="spacing">2-week moving av. new deaths</text>
<text x="11.5" y="498.5" font-size="10.1">Source: ourworldindata.org/coronavirus-source-data</text>
<text x="826" y="498.5" font-size="10.45" text-anchor="end">© 2021 IHS Markit</text>
</g>
</svg>
</body></html>
